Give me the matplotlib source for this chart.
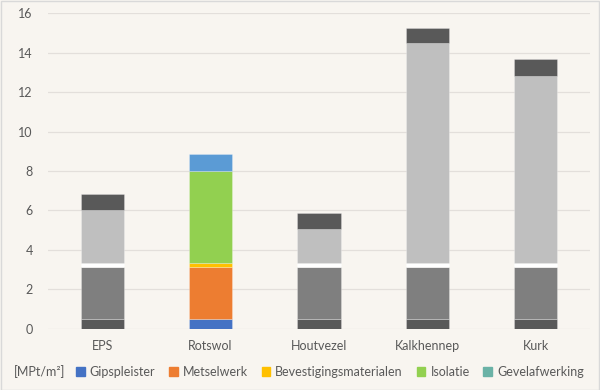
import numpy as np
import matplotlib.pyplot as plt
from matplotlib.patches import Patch

categories = ['EPS', 'Rotswol', 'Houtvezel', 'Kalkhennep', 'Kurk']
series = ['Gipspleister', 'Metselwerk', 'Bevestigingsmaterialen', 'Isolatie', 'Gevelafwerking']
gipspleister = [0.51, 0.51, 0.51, 0.51, 0.51]
metselwerk = [2.64, 2.64, 2.64, 2.64, 2.64]
bevestiging = [0.20, 0.19, 0.20, 0.20, 0.20]
isolatie = [2.68, 4.68, 1.71, 11.13, 9.49]
gevelafwerking = [0.81, 0.83, 0.79, 0.79, 0.83]

# kleuren per reeks, Rotswol in kleur, de rest grijs
grey = ['#595959', '#7F7F7F', '#FFFFFF', '#BFBFBF', '#595959']
colour = ['#4472C4', '#ED7D31', '#FFC000', '#92D050', '#5B9BD5']
legend_colours = ['#4472C4', '#ED7D31', '#FFC000', '#92D050', '#6AB2A6']

bg = '#F8F5F0'
txt = '#595959'
plt.rcParams['font.family'] = ['Lato', 'DejaVu Sans']

fig = plt.figure(figsize=(6, 3.9), dpi=100, facecolor=bg)
ax = fig.add_axes([0.08, 0.157, 0.903, 0.809], facecolor=bg)

x = np.arange(len(categories))
bottom = np.zeros(len(categories))
data = [gipspleister, metselwerk, bevestiging, isolatie, gevelafwerking]
for i, vals in enumerate(data):
    cols = [colour[i] if c == 'Rotswol' else grey[i] for c in categories]
    ax.bar(x, vals, 0.4, bottom=bottom, color=cols,
           edgecolor=(1, 1, 1, 0.25), linewidth=0.7, zorder=3)
    bottom += np.array(vals)

ax.set_xlim(-0.5, len(categories) - 0.5)
ax.set_ylim(0, 16)
ax.set_yticks(range(0, 17, 2))
ax.set_xticks(x)
ax.set_xticklabels(categories)
ax.grid(axis='y', color='#E3DFDB', linewidth=0.9, zorder=0)
ax.tick_params(length=0, colors=txt, labelsize=9)
ax.tick_params(axis='y', pad=11)
ax.tick_params(axis='x', pad=8)
for s in ax.spines.values():
    s.set_visible(False)

fig.text(0.023, 0.046, '[MPt/m²]', color=txt, fontsize=9, va='center')
handles = [Patch(color=c) for c in legend_colours]
fig.legend(handles, series, ncol=5, loc='center left', bbox_to_anchor=(0.118, 0.046),
           frameon=False, fontsize=9, labelcolor=txt, handlelength=0.7,
           handleheight=0.7, handletextpad=0.4, columnspacing=1.1, borderaxespad=0)

fig.patches.append(plt.Rectangle((0.001, 0.001), 0.997, 0.997, transform=fig.transFigure,
                                 fill=False, edgecolor='#D9D9D9', linewidth=1))

fig.savefig('out.png', dpi=100, facecolor=bg)
